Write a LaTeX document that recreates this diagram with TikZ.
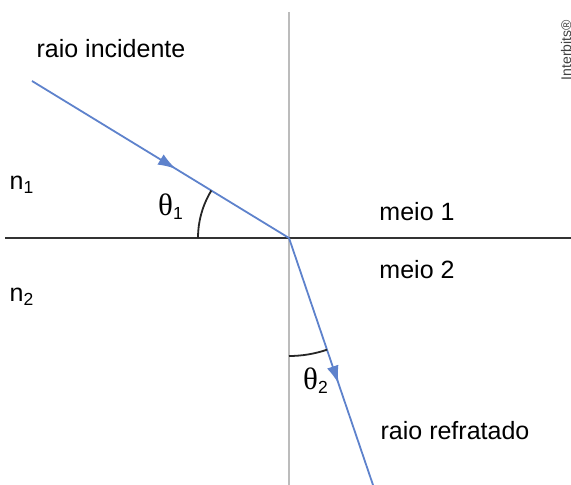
\documentclass[tikz,border=0pt]{standalone}
\usepackage{fontspec}
\setmainfont{Liberation Sans}
\newfontfamily\grk{Liberation Serif}
\usetikzlibrary{decorations.markings,arrows.meta}
\definecolor{raycol}{RGB}{94,130,204}
\definecolor{normcol}{RGB}{188,188,188}
\definecolor{linecol}{RGB}{50,50,50}

\begin{document}
\begin{tikzpicture}[x=0.5pt,y=-0.5pt,
		ray/.style={raycol, line width=0.9pt, postaction={decorate},
			decoration={markings, mark=at position #1 with {\arrow{Latex[length=9pt,width=6pt]}}}},
		ang/.style={black!85, line width=0.9pt},
		lbl/.style={font=\fontsize{12.5}{15}\selectfont, inner sep=0pt}]
		\useasboundingbox (0,0) rectangle (571,485);
		% normal and interface
		\coordinate (O) at (289,238);
		\coordinate (ntop) at (289,12);
		\coordinate (nbot) at (289,485);
		\coordinate (sleft) at (5,238);
		\coordinate (sright) at (571,238);
		\draw[normcol, line width=1pt] (ntop) -- (nbot);
		\draw[linecol, line width=1pt] (sleft) -- (sright);
		% rays
		\coordinate (src) at (32,81);
		\coordinate (dst) at (373,485);
		\draw[ray=0.56] (src) -- (O);
		\draw[ray=0.59] (O) -- (dst);
		% angles (y axis points down, so angles run clockwise)
		\draw[ang] (O) ++(180:91) arc (180:211.4:91);
		\draw[ang] (O) ++(90:118) arc (90:71.2:118);
		% labels
		\node[lbl] (inc) at (111,49) {raio incidente};
		\node[lbl] (ref) at (455,431) {raio refratado};
		\node[lbl] (m1) at (417,212) {meio 1};
		\node[lbl] (m2) at (417,270) {meio 2};
		\node[lbl] (n1) at (22,185) {n\textsubscript{1}};
		\node[lbl] (n2) at (22,297) {n\textsubscript{2}};
		\node[lbl] (t1) at (171,207) {{\grk\fontsize{15.5}{18}\selectfont θ}\textsubscript{1}};
		\node[lbl] (t2) at (316,381) {{\grk\fontsize{15.5}{18}\selectfont θ}\textsubscript{2}};
		\node[font=\fontsize{7}{8}\selectfont, text=black!75, rotate=90, inner sep=0pt] (ib) at (566,50) {Interbits®};
	\end{tikzpicture}
\end{document}
